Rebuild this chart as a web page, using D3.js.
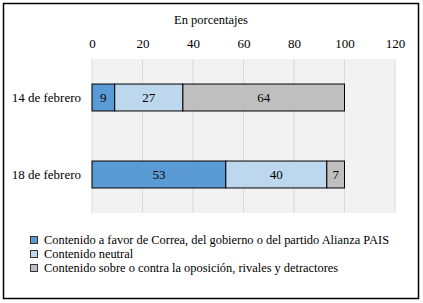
<!DOCTYPE html>
<html>
<head>
<meta charset="utf-8">
<script src="https://cdn.jsdelivr.net/npm/d3@7"></script>
<style>
  body { margin: 0; background: #fff; }
  text { font-family: "Liberation Serif", "DejaVu Serif", serif; fill: #000; }
</style>
</head>
<body>
<div id="chart-area"></div>
<script>
// Data
let dates = ["14 de febrero", "18 de febrero"];
let aFavor = [9, 53];
let neutral = [27, 40];
let contra = [64, 7];
let seriesNames = [
    "Contenido a favor de Correa, del gobierno o del partido Alianza PAIS",
    "Contenido neutral",
    "Contenido sobre o contra la oposición, rivales y detractores"
];
let ticks = [0, 20, 40, 60, 80, 100, 120];

let colors = ["#5b9bd5", "#bdd7ee", "#bfbfbf"];

let W = 423, H = 303;
let margin = {top: 59, left: 92, right: 28, bottom: 90};
let width = W - margin.left - margin.right,
    height = H - margin.top - margin.bottom;

let svg = d3.select("#chart-area").append("svg")
    .attr("width", W)
    .attr("height", H);

// outer frame
svg.append("rect")
    .attr("x", 3.5).attr("y", 3.5)
    .attr("width", 415).attr("height", 295)
    .attr("fill", "none")
    .attr("stroke", "#000")
    .attr("stroke-width", 1.5);

let g = svg.append("g")
    .attr("transform", "translate(" + margin.left + "," + margin.top + ")");

// Scales
let x = d3.scaleLinear().domain([0, 120]).range([0, width]);
let y = d3.scaleBand().domain(dates).range([0, height]).paddingInner(0.65).paddingOuter(0.325);

// plot background
g.append("rect")
    .attr("width", width).attr("height", height)
    .attr("fill", "#f2f2f2");

// gridlines
g.selectAll(".grid")
    .data(ticks)
    .enter().append("line")
    .attr("class", "grid")
    .attr("x1", d => x(d)).attr("x2", d => x(d))
    .attr("y1", 0).attr("y2", height)
    .attr("stroke", "#d9d9d9");

// top axis
let xAxis = g.append("g")
    .attr("class", "x-axis")
    .call(d3.axisTop(x).tickValues(ticks).tickSize(0).tickPadding(11));
xAxis.select(".domain").remove();
xAxis.selectAll("text").attr("font-size", 13).attr("font-family", "Liberation Serif");

svg.append("text")
    .attr("x", 211).attr("y", 24)
    .attr("text-anchor", "middle")
    .attr("font-size", 12.5)
    .text("En porcentajes");

// left axis
let yAxis = g.append("g")
    .attr("class", "y-axis")
    .call(d3.axisLeft(y).tickSize(0).tickPadding(11));
yAxis.select(".domain").remove();
yAxis.selectAll("text").attr("font-size", 13).attr("font-family", "Liberation Serif");

// stacked data
let rows = dates.map((d, i) => ({date: d, v: [aFavor[i], neutral[i], contra[i]]}));
let stackData = d3.stack().keys([0, 1, 2]).value((d, k) => d.v[k])(rows);

let layers = g.selectAll(".layer")
    .data(stackData)
    .enter().append("g")
    .attr("class", "layer")
    .attr("fill", (d, i) => colors[i]);

layers.selectAll("rect")
    .data(d => d)
    .enter().append("rect")
    .attr("x", d => x(d[0]))
    .attr("y", d => y(d.data.date))
    .attr("width", d => x(d[1]) - x(d[0]))
    .attr("height", y.bandwidth())
    .attr("stroke", "#000")
    .attr("stroke-width", 1);

layers.selectAll(".label")
    .data(d => d)
    .enter().append("text")
    .attr("class", "label")
    .attr("x", d => (x(d[0]) + x(d[1])) / 2)
    .attr("y", d => y(d.data.date) + y.bandwidth() / 2)
    .attr("dy", "0.35em")
    .attr("text-anchor", "middle")
    .attr("font-size", 13)
    .text(d => d[1] - d[0]);

// legend
let legend = svg.selectAll(".legend")
    .data(seriesNames)
    .enter().append("g")
    .attr("class", "legend")
    .attr("transform", (d, i) => "translate(30," + (240 + i * 14) + ")");

legend.append("rect")
    .attr("x", 0.5).attr("y", -3.5)
    .attr("width", 7).attr("height", 7)
    .attr("fill", (d, i) => colors[i])
    .attr("stroke", "#333");

legend.append("text")
    .attr("x", 14)
    .attr("dy", "0.35em")
    .attr("font-size", 12.4)
    .text(d => d);
</script>
</body>
</html>
